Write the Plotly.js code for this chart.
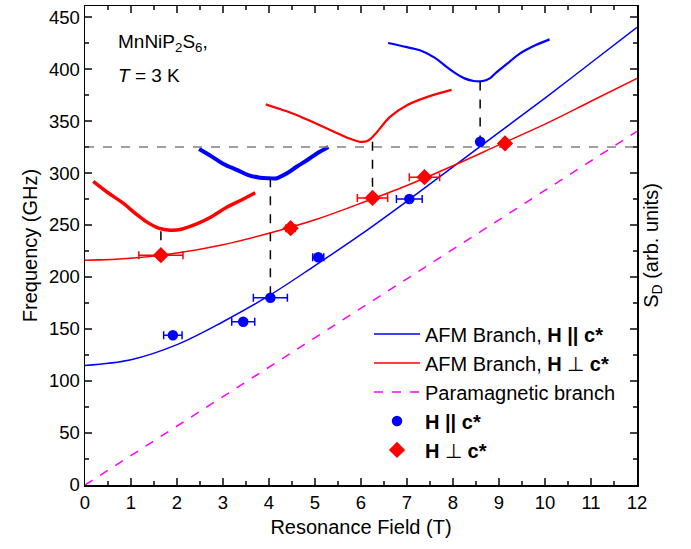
<!DOCTYPE html>
<html>
<head>
<meta charset="utf-8">
<script src="https://cdn.plot.ly/plotly-3.0.1.min.js"></script>
<style>html,body{margin:0;padding:0;background:#fff;}#chart{width:691px;height:549px;}</style>
</head>
<body>
<div id="chart"></div>
<script>
// Theory branches
const fieldGrid = [0,1,2,3,4,5,6,7,8,9,10,11,12];
const afmParallel = [115,120.5,135,157,182,211,241,273,306,339,372,406,440];
const afmPerp = [216,218,223,231,242,255,271,288,307,327,347,369,391];
const paraX = [0,12];
const paraY = [0,340];

// Experimental points
const parX = [1.91,3.44,4.03,5.07,7.05,8.59];
const parY = [144,157,180,219,275,330];
const parErr = [0.2,0.25,0.37,0.12,0.28,0];
const perpX = [1.65,4.47,6.25,7.38,9.13];
const perpY = [221,247,276,296,328.5];
const perpErr = [0.48,0.1,0.33,0.33,0];

// Spectra (arb. units, drawn in plot coordinates)
const spec1X = [0.18,0.5,0.83,1.1,1.34,1.6,1.85,2.1,2.43,2.75,3.08,3.4,3.7];
const spec1Y = [292,281,271,261,253,247,245,246,251,258,267,274,281];
const spec2X = [2.48,2.75,3.0,3.3,3.55,3.8,4.0,4.17,4.4,4.6,4.85,5.05,5.29];
const spec2Y = [323,316,309,303,298,295.5,295,295,300,306,313,319,325];
const spec3X = [3.93,4.2,4.53,4.9,5.4,5.7,5.98,6.15,6.3,6.63,6.99,7.43,7.97];
const spec3Y = [366,362,357,350,340,334,330,331,337,354,365,373,380];
const spec4X = [6.59,7.0,7.28,7.6,7.86,8.05,8.25,8.45,8.65,8.8,8.95,9.2,9.46,9.8,10.1];
const spec4Y = [425,421,418,411,402,396,391,388.5,388.5,391,397,406,415,423,428.5];

// Guides
const guideX = [1.65,4.03,6.25,8.59];
const guideTop = [244,295,330,388];
const guideBottom = [221,180,276,330];
const hGuideY = 325;

const traces = [];
traces.push({x:fieldGrid,y:afmParallel,mode:'lines',line:{color:'#0000ff',width:1.5,shape:'spline'},name:'AFM Branch, <b>H || c*</b>'});
traces.push({x:fieldGrid,y:afmPerp,mode:'lines',line:{color:'#ff0000',width:1.5,shape:'spline'},name:'AFM Branch, <b>H</b> ⊥ <b>c*</b>'});
traces.push({x:paraX,y:paraY,mode:'lines',line:{color:'#ff00ff',width:1.5,dash:'dash'},name:'Paramagnetic branch'});
traces.push({x:parX,y:parY,mode:'markers',marker:{color:'#0000ff',symbol:'circle',size:10.5},
  error_x:{type:'data',array:parErr,visible:true,color:'#0000ff',thickness:1.5,width:4},name:'<b>H || c*</b>'});
traces.push({x:perpX,y:perpY,mode:'markers',marker:{color:'#ff0000',symbol:'diamond',size:12.5},
  error_x:{type:'data',array:perpErr,visible:true,color:'#ff0000',thickness:1.5,width:4},name:'<b>H</b> ⊥ <b>c*</b>'});

traces.push({x:spec1X,y:spec1Y,mode:'lines',line:{color:'#ff0000',width:3.5,shape:'spline'},showlegend:false,hoverinfo:'skip'});
traces.push({x:spec2X,y:spec2Y,mode:'lines',line:{color:'#0000ff',width:4,shape:'spline'},showlegend:false,hoverinfo:'skip'});
traces.push({x:spec3X,y:spec3Y,mode:'lines',line:{color:'#ff0000',width:2.2,shape:'spline'},showlegend:false,hoverinfo:'skip'});
traces.push({x:spec4X,y:spec4Y,mode:'lines',line:{color:'#0000ff',width:2.2,shape:'spline'},showlegend:false,hoverinfo:'skip'});

for (let i=0;i<guideX.length;i++){
  traces.push({x:[guideX[i],guideX[i]],y:[guideTop[i],guideBottom[i]],mode:'lines',
    line:{color:'#000000',width:1.5,dash:'dash'},showlegend:false,hoverinfo:'skip'});
}
traces.push({x:[0,12],y:[hGuideY,hGuideY],mode:'lines',line:{color:'#808080',width:1.5,dash:'dash'},showlegend:false,hoverinfo:'skip'});
// invisible trace to set up right axis
traces.push({x:[0],y:[0],yaxis:'y2',mode:'markers',marker:{opacity:0},showlegend:false,hoverinfo:'skip'});

// draw guides/spectra below the data points
const order = traces.slice(5).concat(traces.slice(0,5));

const font = {family:'"Liberation Sans", Arial, sans-serif',color:'#000'};
const layout = {
  width:691,height:549,
  margin:{l:85,r:54,t:6,b:64},
  paper_bgcolor:'#fff',plot_bgcolor:'#fff',
  font:Object.assign({size:18},font),
  showlegend:true,
  xaxis:{range:[0,12],dtick:1,tick0:0,ticks:'inside',ticklen:7,tickwidth:1.5,showline:true,linewidth:1.5,linecolor:'#000',
    mirror:'ticks',showgrid:false,zeroline:false,
    minor:{dtick:0.5,ticks:'inside',ticklen:4,tickwidth:1.5,showgrid:false},
    tickfont:Object.assign({size:18.5},font),
    title:{text:'Resonance Field (T)',font:Object.assign({size:20},font),standoff:8}},
  yaxis:{range:[0,460.6],dtick:50,tick0:0,ticks:'inside',ticklen:7,tickwidth:1.5,showline:true,linewidth:1.5,linecolor:'#000',
    mirror:'ticks',showgrid:false,zeroline:false,
    minor:{dtick:25,ticks:'inside',ticklen:4,tickwidth:1.5,showgrid:false},
    tickfont:Object.assign({size:18.5},font),
    title:{text:'Frequency (GHz)',font:Object.assign({size:20},font),standoff:6}},
  yaxis2:{overlaying:'y',side:'right',range:[0,460.6],showticklabels:false,ticks:'',showgrid:false,zeroline:false,showline:false,
    title:{text:'S<sub>D</sub> (arb. units)',font:Object.assign({size:20},font),standoff:6}},
  legend:{x:0.5145,y:0.356,xanchor:'left',yanchor:'top',bgcolor:'rgba(0,0,0,0)',font:Object.assign({size:20},font),itemwidth:46,tracegroupgap:0},
  annotations:[
    {xref:'x',yref:'y',x:0.67,y:425,xanchor:'left',yanchor:'middle',showarrow:false,text:'MnNiP<sub>2</sub>S<sub>6</sub>,',font:Object.assign({size:19},font)},
    {xref:'x',yref:'y',x:0.67,y:394,xanchor:'left',yanchor:'middle',showarrow:false,text:'<i>T</i> = 3 K',font:Object.assign({size:19},font)}
  ]
};
Plotly.newPlot('chart',order,layout,{displayModeBar:false,staticPlot:true});
</script>
</body>
</html>
